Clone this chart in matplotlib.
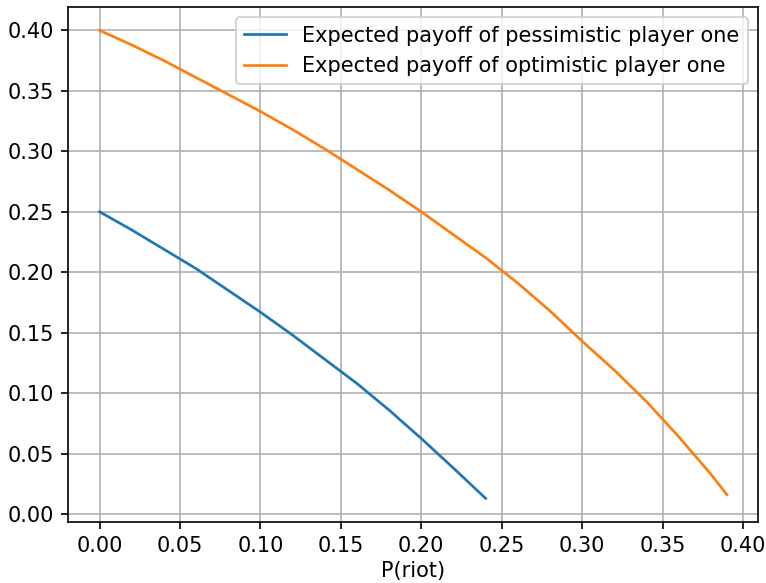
import matplotlib
matplotlib.use('Agg')
import matplotlib.pyplot as plt

# Values.
p_pess = [0.00, 0.02, 0.04, 0.06, 0.08, 0.10, 0.12, 0.14, 0.16, 0.18, 0.20, 0.22, 0.24]
payoff_pess = [0.250, 0.235, 0.219, 0.203, 0.185, 0.167, 0.148, 0.128, 0.108, 0.086,
               0.0625, 0.038, 0.013]

p_opt = [0.00, 0.02, 0.04, 0.06, 0.08, 0.10, 0.12, 0.14, 0.16, 0.18, 0.20,
         0.22, 0.24, 0.26, 0.28, 0.30, 0.32, 0.34, 0.36, 0.38, 0.39]
payoff_opt = [0.400, 0.388, 0.375, 0.361, 0.347, 0.333, 0.318, 0.302, 0.285, 0.268, 0.250,
              0.231, 0.212, 0.191, 0.168, 0.143, 0.119, 0.093, 0.064, 0.033, 0.016]

labels = ['Expected payoff of pessimistic player one',
          'Expected payoff of optimistic player one']

fig, ax = plt.subplots(figsize=(766 / 150, 583 / 150), dpi=150)
fig.subplots_adjust(left=0.089, right=0.990, top=0.988, bottom=0.105)

ax.plot(p_pess, payoff_pess, label=labels[0], lw=1.3)
ax.plot(p_opt, payoff_opt, label=labels[1], lw=1.3)

ax.set_xlabel('P(riot)', labelpad=2)
ax.grid(True)
ax.legend(loc='upper right')

plt.savefig('out.png', dpi=150)
